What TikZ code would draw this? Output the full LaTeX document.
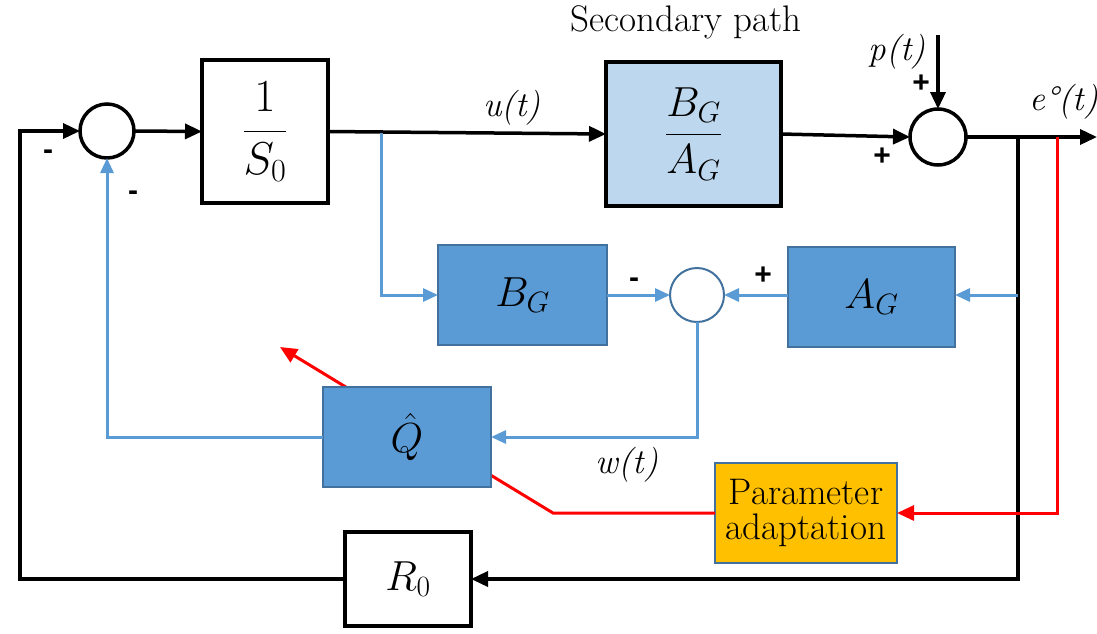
\RequirePackage{fix-cm}
\documentclass[tikz,border=0pt]{standalone}
\usepackage{amsmath}
\usepackage{fontspec}
\newfontfamily\signfont{Liberation Sans}
\usetikzlibrary{arrows.meta,backgrounds}
\definecolor{bfill}{HTML}{5B9BD5}
\definecolor{bedge}{HTML}{41719C}
\definecolor{lblue}{HTML}{BDD7EE}
\definecolor{gold}{HTML}{FFC000}
\definecolor{rline}{HTML}{FF0000}
\begin{document}
\begin{tikzpicture}[x=1pt,y=-1pt,
  every node/.style={inner sep=0pt,outer sep=0pt},
  blkbox/.style={draw=black,line width=4pt,fill=white,minimum width=#1},
  bluebox/.style={draw=bedge,line width=2pt,fill=bfill,minimum width=#1,minimum height=100pt},
  sumc/.style={circle,draw=black,line width=3.5pt,fill=white,minimum size=#1},
  blkline/.style={line width=3.5pt,draw=black},
  blkarrow/.style={blkline,-{Triangle[length=17pt,width=15pt]}},
  bluarrow/.style={line width=3pt,draw=bfill,-{Triangle[length=15pt,width=13pt]}},
  redarrow/.style={line width=3pt,draw=rline,-{Triangle[length=17pt,width=15pt]}},
  sign/.style={font=\signfont\bfseries\fontsize{30}{32}\selectfont},
  lbl/.style={font=\rmfamily\fontsize{37}{40}\selectfont},
  ital/.style={font=\rmfamily\itshape\fontsize{35}{38}\selectfont},
  mth/.style={font=\fontsize{42}{46}\selectfont},
  mthb/.style={font=\fontsize{46}{50}\selectfont}
]
\useasboundingbox (0,0) rectangle (1097,633);

% blocks
\node[blkbox=126pt,minimum height=143pt,mthb] (S0) at (265,131.5) {$\dfrac{1}{S_0}$};
\node[blkbox=175pt,minimum height=144pt,fill=lblue,mth] (SP) at (693.5,134) {$\dfrac{B_G}{A_G}$};
\node[blkbox=126pt,minimum height=94pt,mth] (R0) at (408,579) {$R_0$};
\node[bluebox=169pt,mth] (BG) at (522.5,295) {$B_G$};
\node[bluebox=167pt,mth] (AG) at (871.5,297) {$A_G$};
\node[bluebox=182pt,fill=gold,lbl,align=center] (PA) at (806,513) {Parameter\\[-5pt]adaptation};

% sum junctions
\node[sumc=54pt] (S1) at (107,131) {};
\node[sumc=56pt] (S2) at (938,137) {};
\node[circle,draw=bedge,line width=2pt,fill=white,minimum size=54pt] (S3) at (697,295) {};

% free ends
\coordinate (lft) at (20,131);
\coordinate (pin) at (938,35);
\coordinate (out) at (1097,137);
\coordinate (tapB) at (1018,137);
\coordinate (tapR) at (1057,137);
\coordinate (tapU) at (381,133);
\coordinate (tapA) at (1018,295);
\coordinate (rk) at (553,513);
\coordinate (adapt) at (280,347);

% adaptation arrow (behind Q)
\draw[redarrow] (PA.west) -- (rk) -- (adapt);

\node[bluebox=168pt,mth] (Q) at (407,437) {$\hat{Q}$};

% black connectors
\draw[blkarrow] (R0.west) -| (lft) -- (S1.west);
\draw[blkarrow] (S1.east) -- (S0.west);
\draw[blkarrow] (S0.east) -- (SP.west);
\draw[blkarrow] (SP.east) -- (S2.west);
\draw[blkarrow] (S2.east) -- (out);
\draw[blkarrow] (pin) -- (S2.north);
\draw[blkarrow] (tapB) |- (R0.east);

% red
\draw[redarrow] (tapR) |- (PA.east);

% blue connectors
\draw[bluarrow] (tapU) |- (BG.west);
\draw[bluarrow] (BG.east) -- (S3.west);
\draw[bluarrow] (AG.west |- S3.east) -- (S3.east);
\draw[bluarrow] (tapA) -- (AG.east |- tapA);
\draw[bluarrow] (S3.south) |- (Q.east);
\draw[bluarrow] (Q.west) -| (S1.south);

% labels
\node[lbl] (t1) at (686,22) {Secondary path};
\node[ital] (t2) at (512,108) {u(t)};
\node[ital] (t3) at (897,52) {p(t)};
\node[ital] (t4) at (1064,102) {e°(t)};
\node[ital] (t5) at (627,465) {w(t)};
\node[sign] (g1) at (921,84) {+};
\node[sign] (g2) at (882,157) {+};
\node[sign] (g3) at (48,155) {-};
\node[sign] (g4) at (133,196) {-};
\node[sign] (g5) at (634,283) {-};
\node[sign] (g6) at (763,276) {+};
\end{tikzpicture}
\end{document}
